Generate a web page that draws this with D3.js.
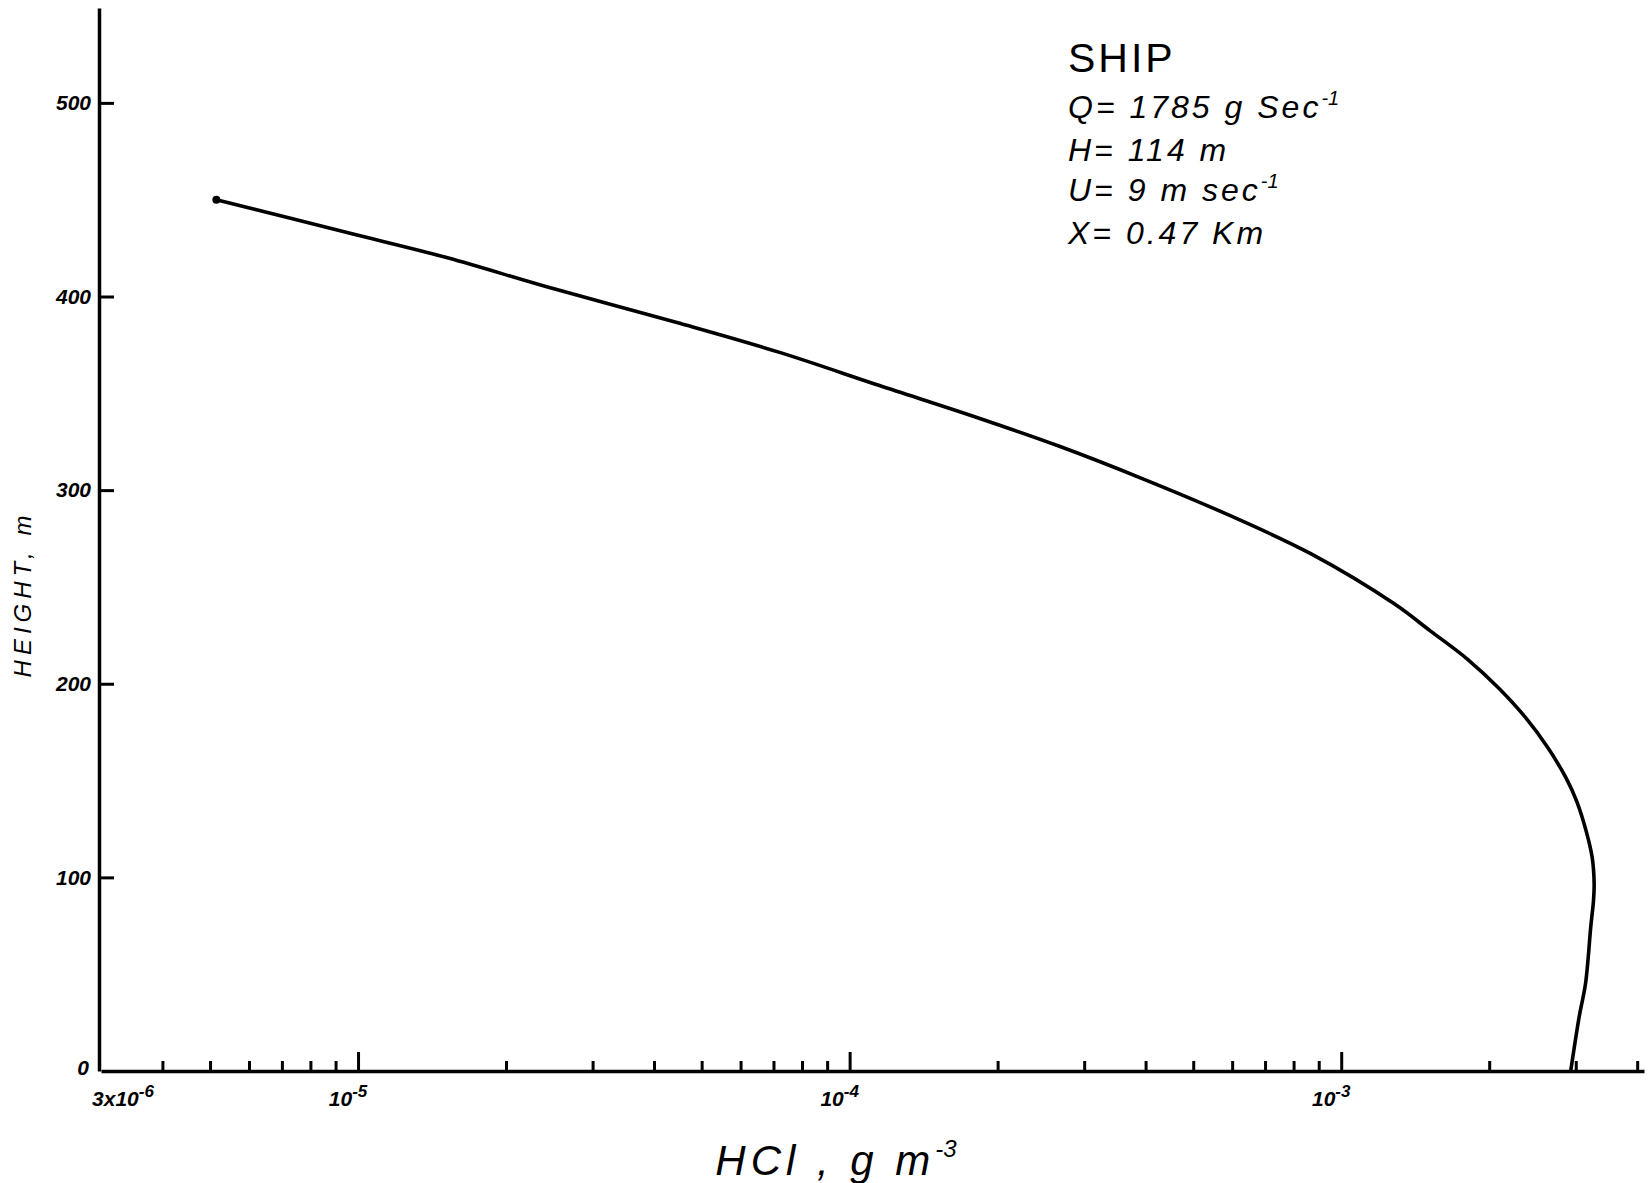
<!DOCTYPE html>
<html>
<head>
<meta charset="utf-8">
<script src="https://cdn.jsdelivr.net/npm/d3@7"></script>
<style>
  html, body { margin: 0; padding: 0; background: #fff; }
  svg { display: block; }
  text { font-family: "Liberation Sans", "DejaVu Sans", sans-serif; font-style: italic; fill: #000; }
</style>
</head>
<body>
<svg id="chart" width="1649" height="1183"></svg>
<script>
// ---- data ----
const concentration = [5.15e-6, 9.5e-6, 1.52e-5, 2.42e-5, 4.53e-5, 7.23e-5, 1.15e-4, 1.84e-4, 2.68e-4, 3.96e-4, 5.85e-4, 8.65e-4, 1.28e-3, 1.52e-3, 1.81e-3, 2.09e-3, 2.37e-3, 2.625e-3, 2.87e-3, 3.015e-3, 3.15e-3, 3.24e-3, 3.27e-3, 3.26e-3, 3.22e-3, 3.14e-3, 3.05e-3, 2.93e-3];
const height        = [450, 433, 420, 405, 386, 371, 354, 337, 322.5, 305.7, 287.6, 267.3, 241.4, 227.2, 212.5, 197.8, 182.6, 167.4, 151.1, 139.1, 123.9, 110.3, 96.7, 88, 75, 45, 28.3, 0];
const heightTicks = [0, 100, 200, 300, 400, 500];
const xMajorTicks = [1e-5, 1e-4, 1e-3];
const xMinorTicks = [4e-6, 5e-6, 6e-6, 7e-6, 8e-6, 9e-6,
                     2e-5, 3e-5, 4e-5, 5e-5, 6e-5, 7e-5, 8e-5, 9e-5,
                     2e-4, 3e-4, 4e-4, 5e-4, 6e-4, 7e-4, 8e-4, 9e-4,
                     2e-3, 3e-3, 4e-3];
const xTickLabels = [
  {v: 3e-6, base: "3x10", exp: "-6"},
  {v: 1e-5, base: "10", exp: "-5"},
  {v: 1e-4, base: "10", exp: "-4"},
  {v: 1e-3, base: "10", exp: "-3"}
];
const annotation = [
  {base: "SHIP", sup: ""},
  {base: "Q= 1785 g Sec", sup: "-1"},
  {base: "H= 114  m", sup: ""},
  {base: "U= 9 m sec", sup: "-1"},
  {base: "X= 0.47 Km", sup: ""}
];
const xTitle = {base: "HCl , g m", sup: "-3"};
const yTitle = "HEIGHT, m";

// ---- scales ----
const svg = d3.select("#chart");
const x = d3.scaleLog().domain([3e-6, 4.13e-3]).range([101, 1644]);
const y = d3.scaleLinear().domain([0, 549]).range([1071, 8]);

// ---- axes ----
const gx = svg.append("g").attr("transform", `translate(0,${y(0)})`)
  .call(d3.axisBottom(x).tickValues(xMajorTicks).tickSizeInner(-19).tickSizeOuter(0).tickFormat(""));
const gxm = svg.append("g").attr("transform", `translate(0,${y(0)})`)
  .call(d3.axisBottom(x).tickValues(xMinorTicks).tickSizeInner(-10).tickSizeOuter(0).tickFormat(""));
gxm.select(".domain").remove();

const gy = svg.append("g").attr("transform", `translate(${x(3e-6) - 2},0)`)
  .call(d3.axisLeft(y).tickValues(heightTicks.filter(d => d > 0)).tickSizeInner(-15).tickSizeOuter(0).tickPadding(8).tickFormat(d3.format("d")));

[gx, gxm, gy].forEach(g => {
  g.selectAll("path.domain").attr("stroke", "#000").attr("stroke-width", 3.5);
  g.selectAll(".tick line").attr("stroke", "#000").attr("stroke-width", 3);
});
gy.selectAll(".tick text")
  .attr("font-size", 21).attr("font-weight", "bold")
  .style("font-family", '"Liberation Sans", sans-serif').style("font-style", "italic");

// "0" label for the origin
svg.append("text")
  .attr("x", x(3e-6) - 12).attr("y", y(0) + 4)
  .attr("text-anchor", "end").attr("font-size", 21).attr("font-weight", "bold")
  .text(heightTicks[0]);

// x tick labels with superscript exponents
const xl = svg.append("g").selectAll("text").data(xTickLabels).join("text")
  .attr("x", d => x(d.v) + (d.v === 3e-6 ? 22 : -10))
  .attr("y", y(0) + 35)
  .attr("text-anchor", "middle")
  .attr("font-size", 21).attr("font-weight", "bold");
xl.append("tspan").text(d => d.base);
xl.append("tspan").attr("dy", -9).attr("font-size", 17).text(d => d.exp);

// ---- curve ----
const pts = concentration.map((c, i) => [c, height[i]]);
const line = d3.line().x(d => x(d[0])).y(d => y(d[1])).curve(d3.curveCatmullRom.alpha(0.5));
svg.append("path").datum(pts)
  .attr("d", line)
  .attr("fill", "none").attr("stroke", "#000").attr("stroke-width", 3.6)
  .attr("stroke-linejoin", "round").attr("stroke-linecap", "round");
svg.append("circle").attr("cx", x(pts[0][0])).attr("cy", y(pts[0][1])).attr("r", 4).attr("fill", "#000");

// ---- titles ----
const xt = svg.append("text")
  .attr("x", 836).attr("y", 1175)
  .attr("text-anchor", "middle").attr("font-size", 42).attr("letter-spacing", 5);
xt.append("tspan").text(xTitle.base);
xt.append("tspan").attr("dy", -18).attr("font-size", 24).attr("letter-spacing", 0).text(xTitle.sup);

svg.append("text")
  .attr("transform", "translate(31,594) rotate(-90)")
  .attr("text-anchor", "middle").attr("font-size", 24).attr("letter-spacing", 5)
  .text(yTitle);

// ---- annotation ----
const annY = [72, 118, 161, 201, 244];
const ann = svg.append("g").selectAll("text").data(annotation).join("text")
  .attr("x", 1068).attr("y", (d, i) => annY[i])
  .attr("font-size", (d, i) => i === 0 ? 41 : 32)
  .attr("letter-spacing", (d, i) => i === 0 ? 3 : 3)
  .style("font-style", (d, i) => i === 0 ? "normal" : "italic");
ann.append("tspan").text(d => d.base);
ann.append("tspan").attr("dy", -13).attr("font-size", 20).attr("letter-spacing", 0).text(d => d.sup);
</script>
</body>
</html>
